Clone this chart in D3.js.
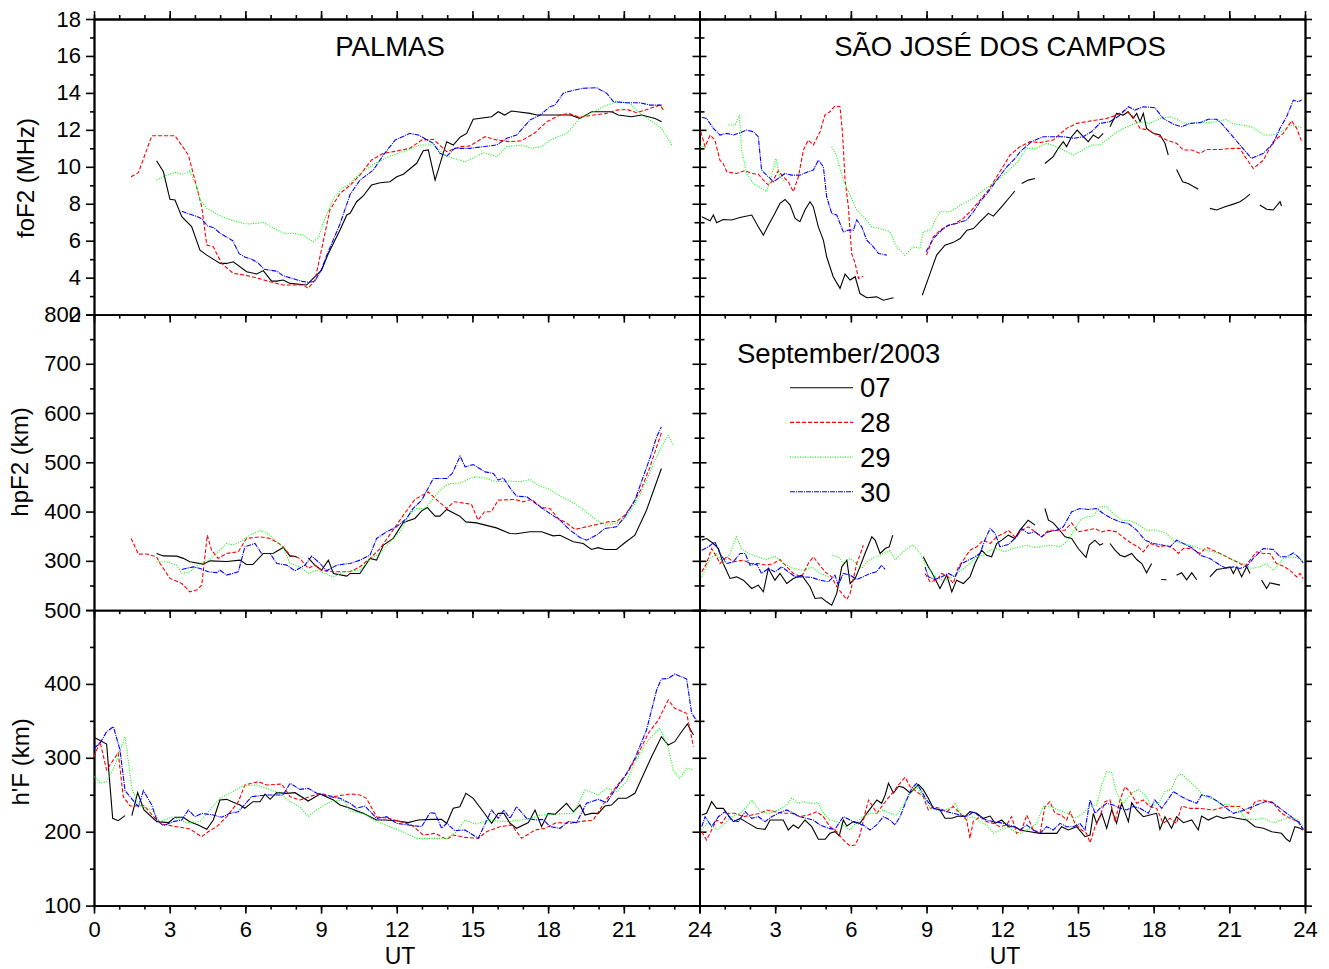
<!DOCTYPE html>
<html>
<head>
<meta charset="utf-8">
<script src="https://cdn.jsdelivr.net/npm/d3@7"></script>
<style>
  body { margin: 0; background: #fff; }
  text { font-family: "Liberation Sans", Arial, sans-serif; fill: #000; }
</style>
</head>
<body>
<svg id="chart" width="1329" height="969"></svg>
<script>
// ---- data: [UT hour, value], null = gap ----
const days = ["07", "28", "29", "30"];
const colors = ["#000000", "#ff0000", "#00ff00", "#0000ff"];
const dashes = [null, "4,2", "1,1.5", "5,1,1,1"];

// Palmas foF2 (MHz)
const palFoF2_07 = [[2.48,10.33],[2.75,9.73],[3.01,8.24],[3.21,8.2],[3.48,7.3],[3.87,6.76],[4.2,5.49],[4.47,5.22],[5.0,4.77],[5.26,4.77],[5.52,4.86],[6.05,4.32],[6.45,4.2],[6.71,4.38],[7.04,3.81],[7.24,3.81],[7.5,3.87],[7.77,3.69],[8.43,3.6],[8.69,3.96],[9.02,4.41],[9.29,5.31],[9.75,6.58],[10.02,7.39],[10.15,7.48],[10.41,8.11],[10.67,8.42],[11.0,9.01],[11.34,9.14],[11.73,9.19],[12.0,9.46],[12.26,9.6],[12.79,10.19],[13.05,10.87],[13.25,10.91],[13.52,9.28],[13.98,11.36],[14.24,11.18],[14.51,11.6],[14.77,11.81],[15.03,12.57],[15.76,12.71],[16.02,12.98],[16.28,12.8],[16.55,13.02],[17.28,12.89],[17.55,12.8],[18.87,12.8],[19.26,12.62],[19.73,12.98],[20.52,12.98],[20.78,12.8],[21.31,12.71],[21.71,12.8],[22.24,12.62],[22.5,12.44]];
const palFoF2_28 = [[1.47,9.46],[1.76,9.68],[2.29,11.68],[3.21,11.68],[3.74,10.64],[4.0,9.28],[4.27,7.84],[4.47,5.77],[4.73,5.67],[5.06,4.77],[5.52,4.23],[5.98,4.14],[6.51,3.96],[6.98,3.78],[7.5,3.6],[7.9,3.6],[8.3,3.6],[8.49,3.42],[8.76,3.87],[9.35,7.66],[9.75,8.56],[10.15,9.0],[10.54,9.55],[11.0,10.37],[11.47,10.73],[11.86,10.82],[12.52,11.0],[12.99,11.45],[13.45,11.49],[13.98,10.82],[14.51,11.09],[14.9,11.13],[15.5,11.63],[15.96,11.45],[16.49,11.36],[16.95,11.41],[17.48,11.84],[17.94,12.44],[18.47,12.8],[18.8,12.89],[19.26,12.68],[19.79,12.8],[20.32,12.89],[20.72,13.07],[21.11,13.11],[21.51,12.93],[22.04,13.16],[22.43,13.34],[22.57,13.07]];
const palFoF2_29 = [[2.48,9.28],[2.88,9.55],[3.21,9.7],[3.54,9.6],[3.8,9.79],[4.07,8.92],[4.2,8.2],[4.47,7.75],[4.8,7.5],[5.06,7.3],[5.5,7.1],[6.05,6.9],[6.5,6.95],[6.7,7.0],[7.1,6.7],[7.5,6.4],[7.9,6.4],[8.3,6.3],[8.5,6.1],[8.7,5.95],[8.9,6.2],[9.1,7.0],[9.5,8.3],[9.8,8.8],[10.15,9.1],[10.54,9.65],[11.14,10.19],[11.73,10.58],[12.26,10.82],[12.92,11.18],[13.45,11.18],[13.98,10.58],[14.71,10.27],[15.43,10.76],[15.96,10.55],[16.36,11.09],[16.95,11.18],[17.35,11.0],[17.74,11.09],[18.07,11.45],[18.73,11.81],[19.26,12.62],[19.79,12.98],[20.25,13.29],[20.72,13.52],[21.24,13.43],[21.71,12.8],[22.04,12.53],[22.5,12.08],[22.9,11.18]];
const palFoF2_30 = [[3.48,7.6],[3.75,7.45],[4.0,7.35],[4.25,7.2],[4.5,6.8],[4.75,6.7],[5.0,6.4],[5.25,6.2],[5.5,6.0],[5.75,5.3],[6.0,5.1],[6.25,5.0],[6.5,4.8],[6.75,4.45],[7.0,4.4],[7.25,4.35],[7.5,4.1],[7.75,4.0],[8.0,3.9],[8.25,3.8],[8.5,3.75],[8.75,3.8],[9.0,4.4],[9.25,5.3],[9.5,6.1],[9.75,6.9],[10.0,7.9],[10.15,8.5],[10.54,9.28],[11.07,9.82],[11.47,10.64],[11.94,11.45],[12.52,11.81],[12.86,11.72],[13.45,11.27],[13.71,10.73],[13.98,10.58],[14.3,11.0],[14.9,11.0],[15.96,11.18],[16.36,11.54],[16.75,11.72],[17.28,12.53],[17.68,12.8],[18.07,13.25],[18.27,13.34],[18.6,13.98],[18.93,14.12],[19.39,14.25],[19.92,14.28],[20.32,13.98],[20.59,13.52],[21.11,13.47],[21.64,13.47],[22.04,13.34],[22.5,13.34]];

// Palmas hpF2 (km)
const palHpF2_07 = [[2.48,315],[2.75,310],[3.28,309.5],[3.54,305],[3.8,298],[4.33,293.3],[4.6,300],[5.26,298.6],[5.79,301.4],[6.04,292.7],[6.3,292.7],[6.71,315],[7.11,315.4],[7.5,327.2],[7.77,309.5],[8.03,308.8],[8.2,null],[8.49,306],[8.76,291],[9.02,281],[9.29,301.4],[9.49,274.4],[10.02,269],[10.15,274.4],[10.54,274.4],[10.94,304.9],[11.2,301.4],[11.47,331.9],[11.86,345.5],[12.26,377.9],[12.72,386],[12.99,401.5],[13.21,408.3],[13.52,390.7],[13.71,390.7],[13.98,404.3],[14.5,390.7],[14.74,379],[15.16,377],[15.95,366.9],[16.48,355.6],[16.74,355],[17.28,358.9],[17.74,358.9],[18.2,350.7],[18.47,352],[19.0,338.6],[19.39,335.3],[19.72,323.1],[19.98,326.8],[20.25,323.1],[20.71,323.1],[21.04,336.6],[21.44,352.1],[21.9,402.8],[22.49,487.5]];
const palHpF2_28 = [[1.47,345.5],[1.76,313.6],[2.09,314],[2.48,308],[2.62,294.7],[3.01,264.3],[3.48,254],[3.8,237],[4.07,240.6],[4.27,250.7],[4.49,352],[4.66,321.8],[4.92,304.9],[5.26,315],[5.72,318.3],[6.04,345.5],[6.58,348.7],[6.98,345.5],[7.44,331.9],[7.77,311.5],[8.16,304.9],[8.49,284.6],[8.76,291.3],[9.02,281],[9.49,277.7],[10.15,277.7],[10.54,287.8],[10.94,305],[11.34,325],[11.85,362.3],[12.31,396.2],[12.72,424.6],[13.25,440],[13.6,423.2],[13.98,406.3],[14.27,419.8],[14.96,415],[15.22,382.6],[15.48,399.6],[15.75,399.6],[16.02,423.2],[16.69,424.6],[17.0,419.8],[17.35,424.6],[17.74,408.3],[18.07,406.3],[18.4,386],[18.73,377],[19.06,363.7],[19.39,367.6],[19.99,374.4],[20.38,379],[20.71,380],[21.04,392.4],[21.37,416.5],[21.7,446.9],[22.04,490.7],[22.3,531.3],[22.49,559.8]];
const palHpF2_29 = [[2.48,298],[2.88,298],[3.28,291],[3.48,274.4],[3.8,277.7],[4.2,294.7],[4.53,301.4],[4.86,315],[5.26,335.3],[5.52,332],[5.79,338.6],[6.18,352.1],[6.58,360.9],[6.84,357.5],[7.11,345.5],[7.5,327],[7.77,294.7],[8.16,287.8],[8.49,274.4],[8.83,281],[9.49,267.5],[9.88,277.7],[10.15,279],[10.54,281],[10.94,305],[11.34,315],[11.86,345.5],[12.13,359],[12.52,396],[12.79,406.3],[13.12,406.3],[13.45,426.6],[13.78,447],[14.1,457],[14.5,457.6],[14.9,467.2],[15.16,470.6],[15.55,467.2],[15.95,460.4],[16.48,462],[16.88,460.4],[17.28,465.2],[17.61,453.6],[18.07,444.8],[18.47,431.3],[18.93,419.8],[19.39,404.3],[19.92,382.6],[20.32,372.4],[20.65,375.8],[21.04,386],[21.37,409.7],[21.77,446.9],[22.17,497.6],[22.49,531.3],[22.76,555],[22.96,534.8]];
const palHpF2_30 = [[3.48,282.5],[3.93,287.8],[4.2,284.6],[4.53,277.7],[4.86,276],[4.99,281],[5.26,271],[5.72,277.7],[5.98,328.4],[6.38,335.3],[6.64,315],[6.98,315],[7.24,294.7],[7.64,291.3],[7.97,279.7],[8.36,291.3],[8.63,309.5],[8.96,294.7],[9.22,279.7],[9.62,291.3],[10.15,294.7],[10.54,301.4],[10.94,311.5],[11.2,345.5],[11.6,359],[11.99,369],[12.39,386],[12.65,406.3],[12.99,423.2],[13.45,467.2],[13.98,467.2],[14.2,477.4],[14.51,512.5],[14.71,490.7],[15.03,495.4],[15.5,480.6],[15.83,477.4],[16.02,463.8],[16.22,468.5],[16.49,448],[16.75,431.3],[17.15,430],[17.68,409.7],[18.07,396.2],[18.47,382.6],[18.87,362.3],[19.26,347.5],[19.52,342],[19.92,352.1],[20.25,365.7],[20.71,369],[21.04,389.3],[21.44,423.2],[21.77,470.6],[22.1,518],[22.3,551.6],[22.49,571.9]];

// Palmas h'F (km)
const palHF_07 = [[0,327.7],[0.5,318.7],[0.74,218.1],[0.96,214.9],[1.23,221.7],[1.36,null],[1.5,221.7],[1.73,252.8],[1.98,229.4],[2.49,213.6],[2.95,212.3],[3.21,219.5],[3.54,219.5],[3.8,213.6],[4.13,209.1],[4.47,203.2],[4.73,215.8],[4.99,242.9],[5.26,243.8],[5.52,239.7],[5.79,236.1],[5.98,231.7],[6.3,240.6],[6.58,240.6],[6.78,251],[6.98,243.8],[7.24,252.8],[7.64,251.9],[7.97,252.8],[8.49,241.5],[8.96,251],[9.49,242.9],[9.75,236.1],[10.15,231.7],[10.67,224.8],[11.2,215.8],[11.54,215.8],[11.99,214.9],[12.45,212.3],[12.85,215.8],[13.38,216.7],[13.77,216.7],[13.98,211.4],[14.24,231.7],[14.5,233.8],[14.74,252],[15.03,245.2],[15.43,227],[15.76,211.4],[16.02,224.8],[16.25,224.8],[16.49,211.4],[16.75,204.6],[17.22,212.3],[17.48,229.4],[17.74,206.9],[18.0,224.8],[18.27,223.5],[18.73,238.4],[19.0,227],[19.26,236.1],[19.46,222.6],[19.72,224.8],[19.99,224.8],[20.25,234.7],[20.51,236.1],[20.78,245.2],[21.11,245.2],[21.44,252],[21.77,276.7],[22.1,301.5],[22.49,328.6],[22.76,317.3],[23.02,321.8],[23.29,335.3],[23.52,345.7],[23.76,330.9]];
const palHF_28 = [[0,301.5],[0.24,321.8],[0.5,283.5],[0.96,306.9],[1.16,247.4],[1.43,234.8],[1.98,235.2],[2.49,215.8],[2.75,210],[3.28,206.8],[3.8,203.7],[4.27,193.2],[4.53,200],[4.86,206.8],[5.26,220.3],[5.72,240.6],[5.98,263.2],[6.51,267.7],[6.84,263.2],[7.44,264.5],[7.77,247.4],[8.16,242.9],[8.96,252],[9.49,247.4],[10.15,251],[10.54,249.7],[10.8,245.2],[11.2,220.3],[11.67,218],[12.13,213.6],[12.59,209.1],[13.05,195.5],[13.52,197.8],[13.98,189.6],[14.24,195.5],[14.71,192.3],[15.23,191],[15.56,200],[16.09,206.8],[16.55,209.1],[16.95,191],[17.48,202.3],[17.87,204.6],[18.33,212.3],[18.86,211.4],[19.26,213.6],[19.79,215.8],[20.25,240.6],[20.72,261.8],[21.18,281.3],[21.58,306],[21.97,333.1],[22.37,351.2],[22.76,378.2],[23.02,367],[23.49,360.2],[23.76,315]];
const palHF_29 = [[0,274.4],[0.24,266.3],[0.5,267.7],[0.83,290.3],[1.23,328.6],[1.5,258.6],[1.76,236.1],[2.29,229.8],[2.62,213.6],[3.14,220.3],[3.67,212.3],[4.2,213.6],[4.53,227],[4.99,245.2],[5.39,252],[5.92,262.3],[6.45,263.2],[6.84,258.6],[7.37,252],[7.77,240.6],[8.16,233.8],[8.49,220.3],[8.83,229.4],[9.36,240.6],[9.88,242.9],[10.15,228],[10.67,224.8],[11.2,213.6],[11.73,206.8],[12.32,198.7],[12.79,191],[13.45,191],[13.98,191],[14.37,200],[14.7,215.8],[15.1,210.5],[15.69,215.8],[16.35,213.6],[17.15,216.7],[17.74,222.6],[18.33,224],[19.0,224.8],[19.46,256.4],[19.99,249.7],[20.32,258.6],[20.72,254.1],[21.11,267.7],[21.5,297],[21.97,324],[22.43,340],[22.76,313],[22.96,283.5],[23.22,272.3],[23.49,285.8],[23.76,283.5]];
const palHF_30 = [[0,312.9],[0.24,320],[0.5,335.3],[0.77,342.1],[1.03,310.6],[1.23,255.5],[1.76,233.8],[1.96,255.5],[2.29,236.1],[2.49,215.8],[2.75,208.2],[3.14,213.6],[3.48,215.8],[3.74,229.4],[4.0,220.3],[4.27,224.8],[4.73,222.6],[5.06,219.5],[5.39,224.8],[5.72,227],[6.25,247.4],[6.84,249.7],[7.5,249.7],[7.77,265.5],[8.16,257.3],[8.49,258.6],[8.83,252],[9.36,247.4],[9.75,245.2],[10.15,238.4],[10.41,231.7],[10.74,234.7],[11.2,218],[11.6,220.3],[11.99,211.4],[12.45,209.1],[12.99,206.8],[13.32,225.8],[13.52,224.8],[13.78,204.6],[13.98,211.4],[14.3,201.5],[14.71,202.3],[15.23,191],[15.76,229.4],[16.02,218],[16.25,229.4],[16.49,218],[16.75,233.8],[17.15,218],[17.55,215.8],[17.81,216.7],[18.07,206.8],[18.47,204.6],[18.8,213.6],[19.13,212.3],[19.52,238.4],[19.99,243.8],[20.32,239.3],[20.65,256.4],[21.04,274.4],[21.44,299.3],[21.9,337.6],[22.3,391.7],[22.49,406.6],[22.76,407.4],[23.02,413.4],[23.49,406.6],[23.69,360.2],[23.88,350.7]];

// Sao Jose dos Campos foF2 (MHz)
const sjcFoF2_07 = [[0.09,7.3],[0.42,7.08],[0.55,7.39],[0.68,6.97],[0.94,7.15],[1.27,7.12],[1.6,7.26],[2.07,7.39],[2.33,6.75],[2.53,6.3],[2.73,6.84],[2.99,7.48],[3.19,8.02],[3.39,8.23],[3.59,7.93],[3.79,7.21],[3.98,7.03],[4.18,7.66],[4.38,8.11],[4.51,7.84],[4.71,6.75],[4.91,6.03],[5.04,5.13],[5.3,4.05],[5.57,3.42],[5.77,4.19],[5.97,3.87],[6.17,4.05],[6.36,3.14],[6.63,2.91],[7.02,2.96],[7.29,2.78],[7.69,2.91],[8.2,null],[8.83,3.05],[9.14,4.23],[9.4,5.22],[9.73,5.76],[10.06,5.91],[10.33,6.12],[10.6,6.57],[10.86,6.66],[11.12,7.03],[11.45,7.48],[11.65,7.33],[11.98,7.84],[12.31,8.38],[12.5,8.69],[12.62,null],[12.77,9.1],[13.03,9.28],[13.3,9.37],[13.5,null],[13.69,10.18],[14.02,10.55],[14.22,11.0],[14.42,11.36],[14.55,11.09],[14.75,11.63],[14.97,11.99],[15.21,11.63],[15.41,11.36],[15.61,11.72],[15.81,11.54],[16.0,11.81],[16.13,null],[16.27,12.17],[16.53,12.89],[16.8,12.8],[16.99,12.98],[17.19,12.62],[17.33,12.89],[17.46,12.44],[17.59,12.89],[17.72,12.08],[17.99,11.81],[18.25,11.72],[18.45,11.27],[18.58,10.64],[18.75,null],[18.91,9.86],[19.15,9.19],[19.37,9.1],[19.77,8.78],[20.0,null],[20.23,7.75],[20.5,7.66],[20.83,7.84],[21.16,7.98],[21.42,8.11],[21.62,8.29],[21.82,8.52],[22.0,null],[22.21,7.93],[22.48,7.7],[22.74,7.66],[23.01,8.11],[23.07,7.88]];
const sjcFoF2_28 = [[0.05,11.9],[0.22,11.09],[0.42,11.72],[0.61,11.45],[0.81,10.36],[0.94,10.18],[1.08,9.73],[1.47,9.64],[1.8,9.79],[2.07,9.64],[2.33,9.6],[2.53,9.28],[2.73,9.01],[2.93,9.28],[3.12,9.79],[3.32,9.46],[3.52,9.19],[3.72,8.65],[3.92,9.46],[4.12,10.91],[4.31,11.45],[4.51,11.18],[4.78,11.9],[4.97,12.8],[5.17,12.98],[5.37,13.29],[5.57,13.25],[5.67,11.81],[5.77,9.28],[5.9,7.84],[6.03,5.31],[6.17,4.77],[6.3,3.96],[6.49,4.08],[7.5,null],[9.0,5.22],[9.27,6.21],[9.54,6.57],[9.8,6.79],[10.13,6.93],[10.46,7.21],[10.79,7.66],[11.12,8.2],[11.45,8.74],[11.78,9.46],[12.11,10.18],[12.31,10.64],[12.7,11.09],[13.1,11.36],[13.5,11.31],[14.02,11.45],[14.55,12.08],[14.95,12.35],[15.34,12.44],[15.74,12.53],[16.14,12.62],[16.53,12.8],[16.86,13.07],[17.19,12.71],[17.46,12.08],[17.79,11.99],[18.12,11.72],[18.52,11.45],[18.91,11.27],[19.18,10.91],[19.51,10.91],[19.84,10.73],[20.1,10.94],[20.63,10.94],[21.16,11.0],[21.42,11.0],[21.62,10.55],[21.95,9.91],[22.35,10.36],[22.74,11.36],[23.14,11.81],[23.47,12.49],[23.67,12.08],[23.87,11.36]];
const sjcFoF2_29 = [[0.02,11.09],[0.28,11.09],[0.7,null],[1.14,12.26],[1.41,12.26],[1.58,12.8],[1.67,10.91],[1.87,9.64],[2.13,9.1],[2.46,8.83],[2.66,8.65],[2.86,9.55],[3.03,10.45],[3.19,9.46],[3.39,9.19],[4.3,null],[5.24,11.09],[5.44,10.55],[5.7,9.28],[5.97,8.47],[6.23,7.66],[6.56,7.21],[6.83,6.75],[7.16,6.66],[7.55,6.48],[7.81,5.67],[8.14,5.22],[8.47,5.67],[8.74,5.58],[8.87,6.48],[9.14,6.57],[9.53,7.57],[9.93,7.57],[10.46,8.02],[10.85,8.29],[11.25,8.74],[11.65,9.1],[12.11,9.64],[12.57,10.2],[12.97,11.0],[13.36,11.0],[13.76,11.27],[14.16,11.09],[14.55,10.82],[14.82,10.64],[15.21,10.91],[15.54,11.18],[15.87,11.18],[16.14,11.45],[16.47,11.81],[16.8,12.08],[17.19,12.31],[17.46,12.44],[17.85,12.35],[18.25,12.62],[18.65,12.71],[18.91,12.57],[19.31,12.31],[19.71,12.39],[20.1,12.39],[20.5,12.44],[20.89,12.57],[21.16,12.31],[21.55,12.26],[21.95,12.13],[22.35,11.72],[22.68,11.72],[23.07,11.9],[23.4,12.26],[23.73,12.17],[23.87,12.13]];
const sjcFoF2_30 = [[0.09,12.68],[0.28,12.62],[0.55,12.08],[0.81,11.72],[1.08,11.81],[1.34,11.72],[1.61,11.84],[1.87,11.99],[2.13,11.9],[2.33,11.63],[2.46,9.82],[2.73,9.46],[2.93,9.19],[3.12,9.37],[3.39,9.64],[3.65,9.55],[3.98,9.55],[4.31,9.73],[4.51,9.82],[4.71,10.36],[4.91,10.0],[5.04,8.38],[5.24,7.48],[5.44,7.39],[5.7,6.48],[5.9,6.57],[6.1,6.57],[6.23,7.12],[6.43,6.75],[6.63,6.03],[6.89,5.67],[7.09,5.31],[7.42,5.22],[8.2,null],[8.98,5.4],[9.27,6.12],[9.6,6.57],[9.86,6.84],[10.19,6.93],[10.59,7.12],[10.86,7.57],[11.12,8.11],[11.45,8.65],[11.78,9.28],[12.18,10.0],[12.51,10.45],[12.7,10.8],[13.16,11.36],[13.63,11.63],[14.02,11.63],[14.42,11.63],[14.82,11.54],[15.21,11.63],[15.54,11.9],[15.87,12.35],[16.27,12.44],[16.67,12.8],[17.0,13.25],[17.26,13.07],[17.59,13.25],[18.05,13.2],[18.38,12.62],[18.78,12.31],[19.11,12.17],[19.44,12.35],[19.84,12.39],[20.17,12.57],[20.5,12.57],[20.69,12.35],[21.03,11.81],[21.42,11.18],[21.88,10.45],[22.35,10.73],[22.74,11.27],[23.01,12.08],[23.27,12.71],[23.54,13.61],[23.73,13.52],[23.87,13.61]];

// Sao Jose dos Campos hpF2 (km)
const sjcHpF2_07 = [[0.09,342],[0.28,345.3],[0.55,335.2],[0.75,325],[0.94,294.6],[1.21,264.2],[1.47,267.5],[1.74,260.8],[2.07,243.9],[2.33,250.7],[2.53,237.2],[2.73,284.5],[2.99,260.8],[3.19,274.4],[3.46,254],[3.72,264.2],[4.05,270.9],[4.38,247.3],[4.58,223.6],[4.84,225],[5.04,216.8],[5.24,210],[5.44,233.8],[5.64,287.8],[5.84,301.4],[5.97,254],[6.17,264.2],[6.36,287.8],[6.56,314.9],[6.83,348.7],[6.96,342],[7.16,314.9],[7.36,325],[7.52,328.4],[7.66,352.1],[8.2,null],[8.87,308.2],[9.07,287.8],[9.27,270.9],[9.53,243.9],[9.8,270.9],[10.0,237.2],[10.19,260.8],[10.46,254],[10.72,267.5],[10.92,294.6],[11.18,321.7],[11.38,311.5],[11.58,308.2],[11.78,335.2],[11.98,342],[12.24,352.1],[12.5,345.3],[12.7,362.2],[13.03,382.5],[13.3,372.4],[13.5,null],[13.69,406.2],[13.83,382.5],[14.02,377.1],[14.22,365.6],[14.49,348.7],[14.75,345.3],[15.01,325],[15.32,306.8],[15.45,331.8],[15.67,342],[15.87,331.8],[16.0,335.2],[16.13,null],[16.27,335.2],[16.47,321.7],[16.67,311.5],[16.86,308.2],[17.13,315],[17.33,302.7],[17.53,294.6],[17.72,275.7],[17.92,294.6],[18.1,null],[18.3,262],[18.51,261.5],[18.7,null],[18.91,270.9],[19.11,275.7],[19.31,261.5],[19.51,275.7],[19.71,261.5],[19.95,null],[20.23,267.5],[20.5,282.4],[20.76,284.5],[21.03,287.8],[21.16,274.4],[21.3,287.8],[21.49,267.5],[21.69,287.8],[21.82,274.4],[22.05,null],[22.28,260.8],[22.48,243.9],[22.61,255.4],[23.01,250.7]];
const sjcHpF2_28 = [[0.09,277.7],[0.28,294.6],[0.48,325],[0.68,308.2],[0.81,294.6],[1.08,308.2],[1.34,298],[1.74,301.4],[2.0,294.6],[2.33,294.6],[2.66,291.2],[2.93,294.6],[3.19,302.7],[3.46,287.8],[3.72,274.4],[4.05,267.5],[4.31,294.6],[4.51,308.2],[4.71,294.6],[4.98,277.7],[5.24,267.5],[5.44,247.3],[5.64,233.8],[5.84,221.6],[5.97,233.8],[6.1,264.2],[6.23,294.6],[6.36,311.5],[6.49,331.8],[7.5,null],[8.94,274.4],[9.14,257.4],[9.4,260.8],[9.6,274.4],[9.86,267.5],[10.06,254],[10.26,287.8],[10.46,301.4],[10.72,321.7],[10.99,328.4],[11.25,342],[11.52,335.2],[11.78,348.7],[12.05,355.5],[12.24,362.2],[12.5,348.7],[12.77,362.2],[13.03,369],[13.3,358.8],[13.56,348.7],[13.83,362.2],[14.16,362.2],[14.49,362.2],[14.75,377.1],[15.01,358.8],[15.34,362.2],[15.67,365.6],[15.94,358.8],[16.2,362.2],[16.53,358.8],[16.86,345.3],[17.13,335.2],[17.39,328.4],[17.59,318.3],[17.85,335.2],[18.25,328.4],[18.51,331.8],[18.78,325],[18.98,314.9],[19.18,325],[19.51,325],[19.84,314.9],[20.1,327.1],[20.5,318.3],[20.89,308.2],[21.29,298],[21.62,289.1],[21.82,301.4],[22.08,318.3],[22.35,314.9],[22.61,314.9],[22.87,294.6],[23.2,287.8],[23.47,277.7],[23.67,267.5],[23.8,274.4],[23.93,264.2]];
const sjcHpF2_29 = [[0.09,267.5],[0.22,282.4],[0.42,305],[0.68,315],[0.94,294.6],[1.21,315],[1.47,348.7],[1.67,325],[1.94,315],[2.27,308.2],[2.66,302.7],[2.99,309.5],[3.32,294.6],[3.72,284.5],[4.12,281],[4.45,287.8],[4.78,274.4],[5.11,267.5],[5.18,null],[5.24,311.5],[5.51,308.2],[5.7,294.6],[5.97,305],[6.23,294.6],[6.43,284.5],[6.69,301.4],[7.02,308.2],[7.29,315],[7.55,320.4],[7.75,302.7],[8.01,315],[8.28,327.1],[8.47,331.8],[8.74,315],[8.94,294.6],[9.14,281],[9.4,264.2],[9.67,260.8],[9.93,264.2],[10.19,274.4],[10.46,284.5],[10.72,294.6],[10.99,308.2],[11.25,311.5],[11.52,321.7],[11.78,325],[12.11,318.3],[12.37,325],[12.7,328.4],[12.97,331.8],[13.23,327.1],[13.5,328.4],[13.89,331.8],[14.29,328.4],[14.55,338.6],[14.82,358.8],[15.08,382.5],[15.34,389.2],[15.61,390.6],[15.87,409.6],[16.14,409.6],[16.47,392.6],[16.73,382.5],[17.0,382.5],[17.33,375.7],[17.72,362.2],[18.12,362.2],[18.51,355.5],[18.78,342],[19.11,335.2],[19.44,331.8],[19.84,325],[20.36,318.3],[20.76,311.5],[21.16,301.4],[21.49,294.6],[21.88,284.5],[22.21,287.8],[22.48,294.6],[22.74,280],[23.14,305],[23.47,308.2],[23.8,305],[23.93,298]];
const sjcHpF2_30 = [[0.09,321.7],[0.35,328.4],[0.61,338.6],[0.81,315],[1.08,294.6],[1.34,298],[1.61,315],[1.81,315],[2.0,291.2],[2.27,293.2],[2.46,274.4],[2.73,284.5],[2.99,277.7],[3.26,287.8],[3.52,277.7],[3.79,267.5],[4.12,267.5],[4.45,266.3],[4.78,260.8],[5.11,257.4],[5.37,270.9],[5.5,250.7],[5.7,274.4],[5.97,270.9],[6.23,262.2],[6.49,267.5],[6.76,274.4],[7.02,277.7],[7.22,291.2],[7.36,282.4],[8.2,null],[8.94,287.8],[9.07,267.5],[9.33,262.2],[9.6,267.5],[9.86,274.4],[10.13,267.5],[10.39,294.6],[10.66,301.4],[10.92,308.2],[11.12,315],[11.32,343.4],[11.52,365.6],[11.72,355.5],[11.91,328.4],[12.24,333],[12.57,348.7],[12.77,365.6],[13.03,355.5],[13.3,358.8],[13.56,348.7],[13.83,358.8],[14.16,362.2],[14.42,369],[14.75,399.5],[15.08,406.2],[15.41,404.2],[15.74,406.2],[16.0,396],[16.34,385.9],[16.67,379.1],[17.0,375.7],[17.33,362.2],[17.66,342],[17.99,335.2],[18.38,331.8],[18.65,328.4],[18.91,342],[19.31,331.8],[19.57,325],[19.84,311.5],[20.23,304.8],[20.63,291.2],[20.89,284.5],[21.16,287.8],[21.42,284.5],[21.69,289.1],[21.95,304.8],[22.35,325],[22.74,323.1],[23.01,308.2],[23.27,308.2],[23.54,316.1],[23.73,308.2],[23.93,296]];

// Sao Jose dos Campos h'F (km)
const sjcHF_07 = [[0.09,222.6],[0.28,224.9],[0.48,240.6],[0.68,231.6],[0.94,231.6],[1.14,222.6],[1.34,213.6],[1.61,218],[1.94,211.3],[2.27,204.6],[2.6,203.2],[2.8,215.8],[3.06,215.8],[3.32,215.8],[3.52,202.3],[3.72,209.1],[3.92,204.6],[4.18,215.8],[4.45,206.8],[4.71,189.7],[4.98,189.7],[5.17,197.8],[5.37,200.1],[5.54,194.2],[5.7,215.8],[5.84,207.7],[6.1,213.6],[6.36,211.3],[6.63,224.9],[6.83,233.9],[7.03,242.9],[7.22,238.4],[7.36,249.7],[7.49,265.5],[7.69,252.4],[7.89,261.5],[8.08,260],[8.35,252.4],[8.68,263.7],[8.87,256.9],[9.07,245.2],[9.27,231.6],[9.53,229.4],[9.73,218.1],[10.0,218.1],[10.26,221.2],[10.52,220.3],[10.72,227.1],[10.99,224.9],[11.25,218.1],[11.52,221.2],[11.72,211.3],[11.98,215.8],[12.24,206.8],[12.5,206.8],[12.7,202.3],[13.1,200],[13.5,197.8],[13.89,197.8],[14.16,197.8],[14.35,206.8],[14.62,202.3],[14.95,206.8],[15.28,193.3],[15.48,195.5],[15.61,224.9],[15.74,211.3],[15.94,224.9],[16.14,204.6],[16.34,230.3],[16.53,211.3],[16.73,238.4],[17.0,213.6],[17.13,239.3],[17.33,229.4],[17.59,220.3],[17.85,222.6],[18.12,224.9],[18.25,203.2],[18.45,220.3],[18.71,204.6],[18.91,220.3],[19.18,212.2],[19.51,215.8],[19.77,202.3],[19.9,221.2],[20.17,215.8],[20.5,221.2],[20.76,218.1],[21.03,220.3],[21.29,218.1],[21.69,215.8],[22.02,206.8],[22.35,204.6],[22.68,200],[23.07,197.8],[23.27,189.7],[23.4,186.5],[23.6,206.8],[23.8,204.6],[23.93,202.3]];
const sjcHF_28 = [[0.09,200],[0.28,188.8],[0.48,202.3],[0.68,215.8],[0.88,211.3],[1.14,224.9],[1.4,224.9],[1.74,220.3],[2.07,222.6],[2.4,224.9],[2.66,229.4],[2.99,227.1],[3.32,224.9],[3.66,224.9],[3.98,220.3],[4.31,222.6],[4.65,227.1],[4.91,220.3],[5.17,206.8],[5.44,200],[5.7,188.8],[5.97,180.6],[6.17,182],[6.36,195.5],[6.56,224.9],[6.7,242.9],[6.83,236.1],[7.03,224.9],[7.22,234],[7.42,242.9],[7.69,254.2],[7.89,263.3],[8.15,273.6],[8.35,260.9],[8.61,254.2],[8.87,247.4],[9.07,229.4],[9.27,234],[9.53,231.6],[9.8,227.1],[10.06,234],[10.33,224.9],[10.59,215.8],[10.72,191],[10.85,213.6],[11.12,220.3],[11.38,213.6],[11.65,211.3],[11.91,206.8],[12.17,209.1],[12.37,220.3],[12.57,197.8],[12.77,202.3],[12.97,222.6],[13.23,202.3],[13.5,197.8],[13.69,233.9],[13.89,240.6],[14.09,224.9],[14.35,222.6],[14.55,215.8],[14.69,227.1],[14.88,211.3],[15.15,202.3],[15.34,197.8],[15.48,185.2],[15.68,206.8],[15.87,220.3],[16.07,240.6],[16.27,242.9],[16.47,213.6],[16.67,242.9],[16.86,260.9],[17.06,254.2],[17.33,238.4],[17.59,242.9],[17.85,234],[18.12,231.6],[18.38,211.3],[18.65,218.1],[18.91,211.3],[19.11,234.8],[19.44,231.6],[19.84,231.6],[20.36,229.4],[20.89,234],[21.42,234],[21.75,224.9],[22.02,240.6],[22.35,242.9],[22.74,238.4],[23.07,224.9],[23.4,218.1],[23.73,213.6],[23.93,202.3]];
const sjcHF_29 = [[0.09,202.3],[0.35,213.6],[0.68,202.3],[0.94,209.1],[1.27,220.3],[1.61,224.9],[1.87,233.9],[2.07,242.9],[2.4,227.1],[2.8,224.9],[3.12,229.4],[3.46,236.1],[3.65,245.2],[3.92,238.4],[4.18,240.6],[4.45,238.4],[4.71,239.3],[4.91,224.9],[5.17,215.8],[5.44,213.6],[5.7,209.1],[5.97,202.3],[6.23,213.6],[6.49,220.3],[6.76,224.9],[7.02,224.9],[7.29,229.4],[7.55,224.9],[7.82,222.6],[8.08,236.1],[8.35,252.4],[8.61,260.9],[8.87,247.4],[9.14,231.6],[9.4,229.4],[9.67,229.4],[9.93,231.6],[10.13,239.3],[10.33,224.9],[10.59,218.1],[10.86,220.3],[11.12,213.6],[11.38,209.1],[11.65,197.8],[11.91,202.3],[12.24,206.8],[12.5,200],[12.7,197.8],[13.1,204.6],[13.36,211.3],[13.63,233.9],[13.89,234.8],[14.22,229.4],[14.55,224.9],[14.88,218.1],[15.21,224.9],[15.48,234],[15.74,236.1],[15.94,263.2],[16.14,281.3],[16.34,279.9],[16.53,252.4],[16.8,238.4],[17.13,252.4],[17.39,257.4],[17.66,249.7],[17.92,234],[18.19,238.4],[18.45,254.2],[18.71,257.4],[18.91,274.5],[19.11,278.1],[19.37,270],[19.71,258.7],[20.03,247.4],[20.36,243.8],[20.69,237.5],[21.03,236.1],[21.29,234],[21.62,218.1],[21.95,215.8],[22.35,218.1],[22.74,212.2],[23.07,215.8],[23.4,220.3],[23.73,215.8],[23.93,206.8]];
const sjcHF_30 = [[0.09,206.8],[0.22,220.3],[0.48,206.8],[0.75,220.3],[1.01,227.1],[1.27,215.8],[1.54,213.6],[1.81,227.1],[2.07,218.1],[2.33,220.3],[2.6,213.6],[2.86,220.3],[3.12,224.9],[3.46,229.4],[3.72,224.9],[3.98,220.3],[4.25,218.1],[4.51,215.8],[4.78,209.1],[5.11,204.6],[5.37,203.2],[5.7,220.3],[5.97,215.8],[6.23,211.3],[6.49,209.1],[6.76,202.3],[7.02,209.1],[7.29,220.3],[7.55,215.8],[7.75,209.1],[7.95,220.3],[8.21,242.9],[8.41,258.7],[8.61,265.5],[8.81,254.2],[9.0,242.9],[9.27,231.6],[9.53,229.4],[9.8,227.1],[10.06,224.9],[10.33,222.6],[10.59,220.3],[10.86,227.1],[11.12,220.3],[11.38,215.8],[11.65,213.6],[11.91,212.3],[12.24,209.1],[12.5,206.8],[12.7,202.3],[12.97,209.1],[13.23,202.3],[13.5,197.8],[13.76,206.8],[14.02,202.3],[14.29,211.3],[14.55,206.8],[14.82,206.8],[15.08,211.3],[15.28,202.3],[15.48,242.9],[15.68,224.9],[15.87,231.6],[16.14,238.4],[16.4,236.1],[16.67,231.6],[16.93,229.4],[17.19,234],[17.46,231.6],[17.79,224.9],[18.05,242.9],[18.32,231.6],[18.51,240.6],[18.78,254.2],[19.11,247.4],[19.37,242.9],[19.71,238.4],[19.9,249.7],[20.23,247.4],[20.56,240.6],[20.89,231.6],[21.16,224.9],[21.42,227.1],[21.75,231.6],[22.08,236.1],[22.41,240.6],[22.68,240.6],[23.01,231.6],[23.27,224.9],[23.54,218.1],[23.8,211.3],[23.93,203.2]];

// ---- layout ----
let svg = d3.select("#chart");
let panelLeft = [94, 699.5];
let panelW = 605.5;
let rowTop = [19, 314.5, 610];
let rowH = 295.6;
let fontFam = "'Liberation Sans', Arial, sans-serif";

let rows = [
  { domain: [2, 18], major: d3.range(2, 19, 2), minor: d3.range(3, 18, 2), skip: null,
    title: "foF2 (MHz)", tx: 34, ty: 178,
    series: [[palFoF2_07, palFoF2_28, palFoF2_29, palFoF2_30], [sjcFoF2_07, sjcFoF2_28, sjcFoF2_29, sjcFoF2_30]] },
  { domain: [200, 800], major: d3.range(200, 801, 100), minor: d3.range(250, 800, 100), skip: 200,
    title: "hpF2 (km)", tx: 28, ty: 462,
    series: [[palHpF2_07, palHpF2_28, palHpF2_29, palHpF2_30], [sjcHpF2_07, sjcHpF2_28, sjcHpF2_29, sjcHpF2_30]] },
  { domain: [100, 500], major: d3.range(100, 501, 100), minor: d3.range(150, 500, 100), skip: null,
    title: "h'F (km)", tx: 29, ty: 762,
    series: [[palHF_07, palHF_28, palHF_29, palHF_30], [sjcHF_07, sjcHF_28, sjcHF_29, sjcHF_30]] }
];

function styleAxis(g, size) {
  g.attr("font-size", size).attr("font-family", fontFam);
  g.selectAll(".domain").attr("stroke", "#000").attr("stroke-width", 1.8);
  g.selectAll(".tick line").attr("stroke", "#000").attr("stroke-width", 1.6);
  g.selectAll(".tick text").attr("fill", "#000");
}

rows.forEach(function(row, r) {
  let top = rowTop[r];
  let y = d3.scaleLinear().domain(row.domain).range([top + rowH, top]);

  [0, 1].forEach(function(c) {
    let x = d3.scaleLinear().domain([0, 24]).range([panelLeft[c], panelLeft[c] + panelW]);
    let bottom = top + rowH;
    let isLast = (r === rows.length - 1);

    // bottom axis (minor then major)
    svg.append("g").attr("transform", "translate(0," + bottom + ")")
      .call(d3.axisBottom(x).tickValues(d3.range(0, 25, 1)).tickSize(4).tickSizeOuter(0).tickFormat(""))
      .call(g => styleAxis(g, 22));
    svg.append("g").attr("transform", "translate(0," + bottom + ")")
      .call(d3.axisBottom(x).tickValues(d3.range(0, 25, 3)).tickSize(8).tickSizeOuter(0).tickPadding(7.5)
        .tickFormat(d => (isLast && !(c === 1 && d === 0)) ? d : ""))
      .call(g => styleAxis(g, 22));

    // top axis for first row
    if (r === 0) {
      svg.append("g").attr("transform", "translate(0," + top + ")")
        .call(d3.axisTop(x).tickValues(d3.range(0, 25, 1)).tickSize(4).tickSizeOuter(0).tickFormat(""))
        .call(g => styleAxis(g, 22));
      svg.append("g").attr("transform", "translate(0," + top + ")")
        .call(d3.axisTop(x).tickValues(d3.range(0, 25, 3)).tickSize(8).tickSizeOuter(0).tickFormat(""))
        .call(g => styleAxis(g, 22));
    }

    if (c === 0) {
      // left y axis with labels
      svg.append("g").attr("transform", "translate(" + panelLeft[0] + ",0)")
        .call(d3.axisLeft(y).tickValues(row.minor).tickSize(4).tickSizeOuter(0).tickFormat(""))
        .call(g => styleAxis(g, 22));
      svg.append("g").attr("transform", "translate(" + panelLeft[0] + ",0)")
        .call(d3.axisLeft(y).tickValues(row.major).tickSize(8).tickSizeOuter(0).tickPadding(5)
          .tickFormat(d => d === row.skip ? "" : d))
        .call(g => styleAxis(g, 22));
    } else {
      // divider between panels: ticks on both sides
      [d3.axisLeft, d3.axisRight].forEach(function(ax) {
        svg.append("g").attr("transform", "translate(" + panelLeft[1] + ",0)")
          .call(ax(y).tickValues(row.minor).tickSize(5).tickSizeOuter(0).tickFormat(""))
          .call(g => styleAxis(g, 22));
        svg.append("g").attr("transform", "translate(" + panelLeft[1] + ",0)")
          .call(ax(y).tickValues(row.major).tickSize(7).tickSizeOuter(0).tickFormat(""))
          .call(g => styleAxis(g, 22));
      });
      // right y axis
      let xr = panelLeft[1] + panelW;
      svg.append("g").attr("transform", "translate(" + xr + ",0)")
        .call(d3.axisRight(y).tickValues(row.minor).tickSize(6).tickSizeOuter(0).tickFormat(""))
        .call(g => styleAxis(g, 22));
      svg.append("g").attr("transform", "translate(" + xr + ",0)")
        .call(d3.axisRight(y).tickValues(row.major).tickSize(7).tickSizeOuter(0).tickFormat(""))
        .call(g => styleAxis(g, 22));
    }

    // data lines
    let line = d3.line()
      .defined(d => d[1] !== null)
      .x(d => x(d[0]))
      .y(d => y(d[1]));
    row.series[c].forEach(function(data, i) {
      svg.append("path")
        .attr("d", line(data))
        .attr("fill", "none")
        .attr("stroke", colors[i])
        .attr("stroke-width", 1.1)
        .attr("stroke-dasharray", dashes[i]);
    });
  });

  // y-axis title
  svg.append("text")
    .attr("transform", "translate(" + row.tx + "," + row.ty + ") rotate(-90)")
    .attr("text-anchor", "middle")
    .attr("font-size", 24)
    .text(row.title);
});

// x-axis titles
svg.append("text").attr("x", 400).attr("y", 964).attr("text-anchor", "middle").attr("font-size", 23).text("UT");
svg.append("text").attr("x", 1005).attr("y", 964).attr("text-anchor", "middle").attr("font-size", 23).text("UT");

// station titles
svg.append("text").attr("x", 390).attr("y", 56).attr("text-anchor", "middle").attr("font-size", 27.5).text("PALMAS");
svg.append("text").attr("x", 1000).attr("y", 56).attr("text-anchor", "middle").attr("font-size", 27.5).text("SÃO JOSÉ DOS CAMPOS");

// legend
let legend = svg.append("g");
legend.append("text").attr("x", 737).attr("y", 363).attr("font-size", 27.5).text("September/2003");
days.forEach(function(d, i) {
  let ly = 387.7 + i * 34.7;
  legend.append("line")
    .attr("x1", 790).attr("x2", 853).attr("y1", ly).attr("y2", ly)
    .attr("stroke", colors[i]).attr("stroke-width", 1.1)
    .attr("stroke-dasharray", dashes[i]);
  legend.append("text").attr("x", 860).attr("y", ly + 9.7).attr("font-size", 27.5).text(d);
});
</script>
</body>
</html>
